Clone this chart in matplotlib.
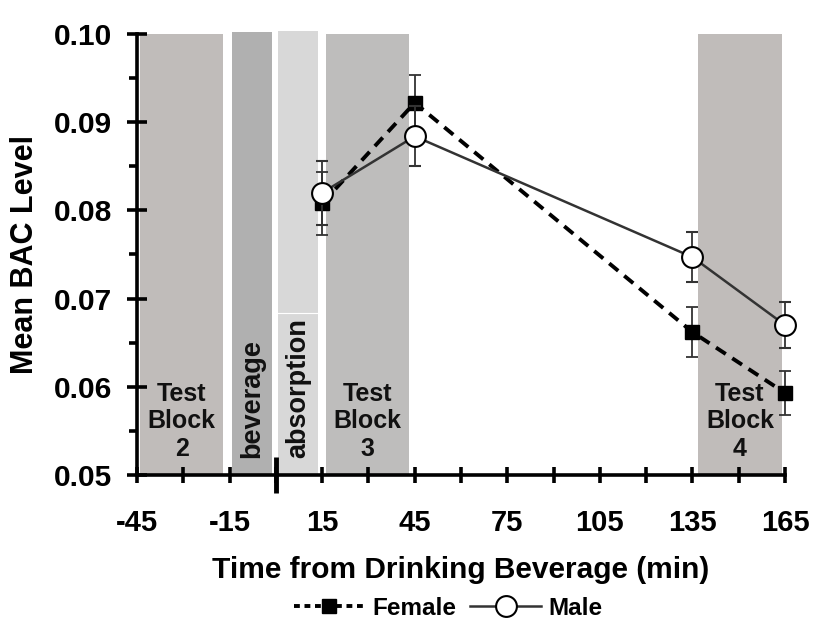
import numpy as np
import matplotlib
matplotlib.use("Agg")
import matplotlib.pyplot as plt
import matplotlib.transforms as mtransforms
from matplotlib.lines import Line2D
from matplotlib.ticker import MultipleLocator, FormatStrFormatter

plt.rcParams['font.family'] = ['Liberation Sans', 'DejaVu Sans']
plt.rcParams['font.weight'] = 'bold'
plt.rcParams['axes.unicode_minus'] = False

# Data
time_min = [15, 45, 135, 165]
female_bac = [0.0808, 0.0922, 0.0662, 0.0593]
female_err = [0.0036, 0.0032, 0.0028, 0.0025]
male_bac = [0.0820, 0.0884, 0.0747, 0.0670]
male_err = [0.0036, 0.0034, 0.0028, 0.0026]

# Shaded phases
phase_start = [-44, -14.2, 0.7, 16.2, 136.8]
phase_end = [-17.1, -1.3, 13.6, 43.1, 164]
phase_top = [0.1, 0.1002, 0.1003, 0.1, 0.1]
phase_color = ['#c0bcba', '#b0b0b0', '#d8d8d8', '#bebdbc', '#c0bcba']
phase_label = ['Test\nBlock\n2', 'beverage', 'absorption', 'Test\nBlock\n3', 'Test\nBlock\n4']
phase_rotated = [False, True, True, False, False]

fig = plt.figure(figsize=(8.18, 6.23), dpi=100)
ax = fig.add_axes([0.1675, 0.2376, 0.7922, 0.7078])

for s, e, t, c, lab, rot in zip(phase_start, phase_end, phase_top, phase_color,
                                phase_label, phase_rotated):
    ax.fill_between([s, e], 0.05, t, color=c, lw=0, zorder=0, clip_on=False)
    mid = (s + e) / 2
    if rot:
        ax.text(mid, 0.0519, lab, rotation=90, ha='center', va='bottom',
                fontsize=19.5, fontweight='bold', color='#111111', zorder=1)
    else:
        ax.text(mid, 0.0516, lab, ha='center', va='bottom', fontsize=18,
                fontweight='bold', color='#111111', linespacing=1.18, zorder=1)

# thin line in the absorption block
ax.plot([phase_start[2], phase_end[2]], [0.0684, 0.0684], color='white', lw=0.8, zorder=0.5)

ax.errorbar(time_min, female_bac, yerr=female_err, color='black', ls=(0, (3, 2)),
            lw=2.8, marker='s', ms=10.5, mfc='black', mec='black',
            ecolor='#333333', elinewidth=1.3, capsize=4.3, capthick=1.3,
            zorder=3, clip_on=False)
ax.errorbar(time_min, male_bac, yerr=male_err, color='#333333', ls='-',
            lw=1.8, marker='o', ms=15, mfc='white', mec='black', mew=1.5,
            ecolor='#333333', elinewidth=1.3, capsize=4.3, capthick=1.3,
            zorder=4, clip_on=False)

ax.set_xlim(-45, 165)
ax.set_ylim(0.05, 0.10)
ax.set_xticks(np.arange(-45, 166, 30))
ax.xaxis.set_minor_locator(MultipleLocator(15))
ax.yaxis.set_major_locator(MultipleLocator(0.01))
ax.yaxis.set_minor_locator(MultipleLocator(0.005))
ax.yaxis.set_major_formatter(FormatStrFormatter('%.2f'))

for side in ['top', 'right']:
    ax.spines[side].set_visible(False)
for side in ['left', 'bottom']:
    ax.spines[side].set_linewidth(2.6)
ax.patch.set_alpha(0)

ax.tick_params(axis='y', which='major', direction='inout', length=14, width=2.6,
               labelsize=21.5, pad=11)
ax.tick_params(axis='y', which='minor', direction='out', length=6, width=2.6)
ax.tick_params(axis='x', which='both', direction='inout', length=11, width=2.6,
               labelsize=21, pad=19)
for lab in ax.get_xticklabels() + ax.get_yticklabels():
    lab.set_fontweight('bold')

# tall thick tick at time zero
trans = mtransforms.blended_transform_factory(ax.transData, ax.transAxes)
ax.plot([0, 0], [-0.041, 0.041], transform=trans, color='black', lw=3.5,
        clip_on=False, zorder=5, solid_capstyle='butt')

ax.set_xlabel('Time from Drinking Beverage (min)', fontsize=21.5, fontweight='bold',
              labelpad=14)
ax.set_ylabel('Mean BAC Level', fontsize=22, fontweight='bold', labelpad=10)

female_handle = Line2D([], [], color='black', ls=(0, (1.5, 1.2)), lw=2.8, marker='s',
                       ms=10.5, mfc='black', mec='black')
male_handle = Line2D([], [], color='#333333', ls='-', lw=1.8, marker='o', ms=15,
                     mfc='white', mec='black', mew=1.5)
fig.legend([female_handle, male_handle], ['Female', 'Male'], loc='center',
           bbox_to_anchor=(0.548, 0.024), ncol=2, frameon=False,
           handlelength=2.9, columnspacing=0.6, handletextpad=0.3,
           prop={'weight': 'bold', 'size': 17.5})

fig.savefig('out.png', dpi=100)
